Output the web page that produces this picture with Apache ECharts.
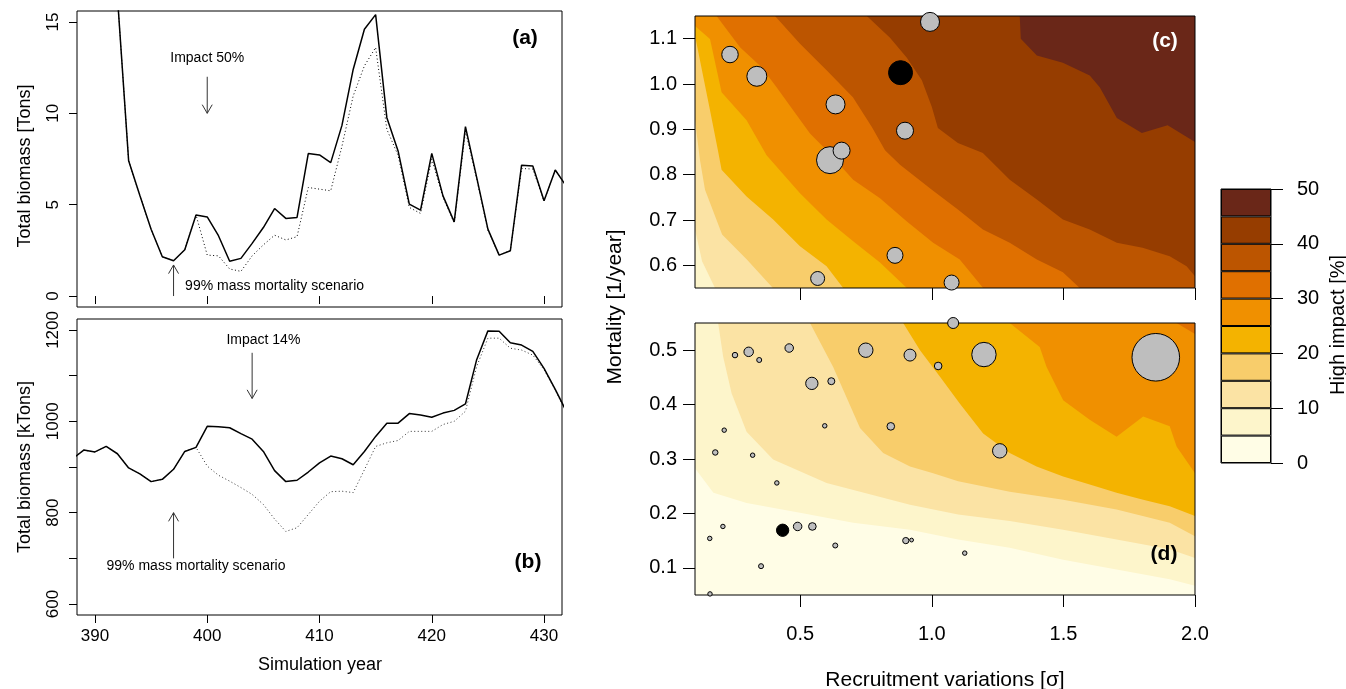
<!DOCTYPE html>
<html>
<head>
<meta charset="utf-8">
<script src="https://cdn.jsdelivr.net/npm/echarts@6/dist/echarts.min.js"></script>
<style>
  html, body { margin: 0; padding: 0; background: #fff; }
  #chart { width: 1346px; height: 689px; }
</style>
</head>
<body>
<div id="chart"></div>
<script>
// ---------- left panels: biomass time series ----------
const years = [388,389,390,391,392,393,394,395,396,397,398,399,400,401,402,403,404,405,406,407,408,409,
  410,411,412,413,414,415,416,417,418,419,420,421,422,423,424,425,426,427,428,429,430,431,432];

// (a) small stock [Tons]
const tonsBase = [40,34,28,22,16.4,7.4,5.5,3.66,2.15,1.93,2.53,4.44, 4.33,3.3,1.9,2.06,2.88,3.75,4.79,4.25,4.3,7.8,
  7.72,7.3,9.34,12.4,14.6,15.4,9.76,7.94,5.03,4.7, 7.81,5.48,4.06,9.27,6.49,3.66,2.24,2.48,7.16,7.12, 5.21,6.9,6.0];
const tonsMortality = [40,34,28,22,16.4,7.4,5.5,3.66,2.15,1.93,2.53,4.44, 2.24,2.2,1.48,1.35,2.2,2.8,3.33,3.07,3.25,5.94,
  5.85,5.76,8.2,10.95,12.6,13.6,9.12,7.7,4.85,4.52, 7.49,5.4,4.0,9.03,6.4,3.6,2.24,2.48,6.98,6.95, 5.2,6.9,6.0];

// (b) large stock [kTons]
const ktonsBase = [918,937,933,945,929,898,885,868,873,895,934,943, 989,988,986,973,961,934,892,868,871,889,
  909,924,918,905,934,967,996,996,1017,1014, 1009,1018,1024,1038,1135,1198,1197,1172,1167,1153, 1116,1070,1021];
const ktonsMortality = [918,937,933,945,929,898,885,868,873,895,934,943, 902,882,869,855,840,818,786,759,767,796,
  825,846,847,844,894,945,953,958,978,978, 978,993,1000,1022,1120,1182,1182,1160,1156,1145, 1113,1068,1019];

const yearTicks = [390, 400, 410, 420, 430];
const tonsTicks = [0, 5, 10, 15];
const ktonsTicks = [600, 700, 800, 900, 1000, 1100, 1200];
const ktonsLabels = [600, 800, 1000, 1200];

// arrows: [x from, y from, x to, y to]
const tonsArrows = [[400, 12, 400, 10], [397, 0, 397, 1.7]];
const tonsNotes = [[400, 13, 'Impact 50%'], [406, 0.55, '99% mass mortality scenario']];
const ktonsArrows = [[404, 1150, 404, 1050], [397, 700, 397, 800]];
const ktonsNotes = [[405, 1177, 'Impact 14%'], [399, 683, '99% mass mortality scenario']];

// ---------- right panels: high impact contours ----------
const impactLevels = [0, 5, 10, 15, 20, 25, 30, 35, 40, 45, 50];
const impactColors = ['#FFFDE6', '#FDF5CB', '#FBE3A4', '#F8CD6B', '#F4B300',
  '#F09000', '#E07000', '#BC5500', '#963D00', '#6A2718'];
const sigmaTicks = [0.5, 1.0, 1.5, 2.0];
const mortHighTicks = [0.6, 0.7, 0.8, 0.9, 1.0, 1.1];
const mortLowTicks = [0.1, 0.2, 0.3, 0.4, 0.5];

// (c) contour lines [sigma, mortality], area above each line gets the next band colour
const cEdge10 = [[0.10,0.679],[0.127,0.609],[0.176,0.55],[2.0,0.55]];
const cEdge15 = [[0.10,0.92],[0.119,0.832],[0.138,0.767],[0.203,0.668],[0.297,0.613],[0.396,0.55],[2.0,0.55]];
const cEdge20 = [[0.10,1.107],[0.119,1.052],[0.157,0.942],[0.187,0.854],[0.201,0.811],[0.296,0.752],[0.397,0.701],
  [0.499,0.642],[0.60,0.598],[0.663,0.55],[2.0,0.55]];
const cEdge25 = [[0.10,1.128],[0.157,1.099],[0.201,0.982],[0.296,0.92],[0.372,0.843],[0.499,0.759],[0.60,0.701],
  [0.701,0.653],[0.803,0.606],[0.905,0.55],[2.0,0.55]];
const cEdge30 = [[0.182,1.15],[0.271,1.081],[0.353,1.037],[0.41,0.993],[0.473,0.942],[0.537,0.891],[0.60,0.854],
  [0.701,0.789],[0.803,0.748],[0.904,0.697],[1.005,0.65],[1.106,0.613],[1.195,0.55],[2.0,0.55]];
const cEdge35 = [[0.404,1.15],[0.499,1.089],[0.601,1.03],[0.70,0.971],[0.772,0.905],[0.822,0.854],[0.879,0.822],
  [1.0,0.767],[1.099,0.723],[1.194,0.679],[1.296,0.65],[1.399,0.613],[1.498,0.585],[1.562,0.55],[2.0,0.55]];
const cEdge40 = [[0.753,1.15],[0.841,1.102],[0.905,1.058],[0.962,1.008],[1.0,0.949],[1.023,0.903],[1.099,0.87],
  [1.194,0.848],[1.296,0.789],[1.399,0.745],[1.498,0.701],[1.60,0.679],[1.703,0.65],[1.801,0.639],[1.904,0.62],
  [1.968,0.598],[2.0,0.576]];
const cEdge45 = [[1.334,1.15],[1.338,1.10],[1.399,1.063],[1.498,1.047],[1.60,1.019],[1.638,0.993],[1.703,0.925],
  [1.798,0.892],[1.896,0.909],[2.0,0.872]];

// (d) contour lines
const dEdge5 = [[0.10,0.283],[0.17,0.238],[0.296,0.219],[0.499,0.201],[0.701,0.183],[0.917,0.17],[1.10,0.152],
  [1.296,0.137],[1.499,0.115],[1.702,0.097],[1.904,0.079],[2.0,0.067]];
const dEdge10 = [[0.188,0.55],[0.207,0.488],[0.239,0.421],[0.296,0.35],[0.397,0.299],[0.60,0.256],[0.917,0.216],
  [1.10,0.198],[1.296,0.186],[1.499,0.17],[1.702,0.152],[1.904,0.134],[2.0,0.118]];
const dEdge15 = [[0.537,0.55],[0.625,0.469],[0.727,0.357],[0.815,0.311],[0.917,0.286],[1.005,0.274],[1.10,0.259],
  [1.296,0.24],[1.499,0.225],[1.702,0.207],[1.904,0.183],[2.0,0.158]];
const dEdge20 = [[0.891,0.55],[0.955,0.50],[1.031,0.451],[1.106,0.402],[1.195,0.347],[1.296,0.311],[1.398,0.286],
  [1.499,0.268],[1.60,0.253],[1.702,0.238],[1.803,0.225],[1.904,0.213],[2.0,0.195]];
const dEdge25 = [[1.296,0.55],[1.41,0.506],[1.436,0.469],[1.499,0.408],[1.60,0.372],[1.702,0.341],[1.803,0.378],
  [1.904,0.36],[1.93,0.323],[2.0,0.274]];
const dEdge30 = [[1.93,0.55],[2.0,0.53]];

// bubbles: [sigma, mortality, weight]
const cBubbles = [[0.233,1.065,60],[0.335,1.017,90],[0.634,0.955,81],[0.613,0.832,169],[0.657,0.853,64],
  [0.898,0.897,64],[0.993,1.137,81],[0.86,0.622,56],[0.566,0.571,42],[1.075,0.562,49]];
const cSelected = [[0.881,1.025,132]];
const dBubbles = [[0.252,0.491,5],[0.304,0.497,18],[0.344,0.482,4],[0.458,0.504,14],[0.749,0.50,45],[0.917,0.491,30],
  [0.544,0.439,32],[0.618,0.443,9],[0.593,0.361,3],[0.844,0.36,11],[0.211,0.353,3],[0.177,0.312,5],[0.319,0.307,3],
  [0.411,0.256,3],[0.206,0.176,3],[0.156,0.154,3],[0.49,0.176,14],[0.546,0.176,11],[0.633,0.141,4],[0.351,0.103,4],
  [0.157,0.052,3],[0.901,0.15,7],[0.923,0.151,2],[1.125,0.127,3],[1.024,0.471,11],[1.198,0.492,137],
  [1.258,0.315,45],[1.851,0.487,543],[1.081,0.55,25]];
const dSelected = [[0.433,0.169,32]];

const FONT = '"Liberation Sans", Arial, Helvetica, sans-serif';
const chart = echarts.init(document.getElementById('chart'));

const zip = vals => years.map((y, i) => [y, vals[i]]);

function arrowSeries(arrows, gi) {
  return {
    type: 'custom', xAxisIndex: gi, yAxisIndex: gi, data: arrows, silent: true, clip: false, z: 6,
    encode: { x: [0, 2], y: [1, 3] },
    renderItem: (params, api) => {
      const p1 = api.coord([api.value(0), api.value(1)]);
      const p2 = api.coord([api.value(2), api.value(3)]);
      const ang = Math.atan2(p2[1] - p1[1], p2[0] - p1[0]);
      const L = 10, sp = Math.PI / 6;
      const h1 = [p2[0] - L * Math.cos(ang - sp), p2[1] - L * Math.sin(ang - sp)];
      const h2 = [p2[0] - L * Math.cos(ang + sp), p2[1] - L * Math.sin(ang + sp)];
      const st = { stroke: '#333', lineWidth: 1, fill: null };
      return { type: 'group', children: [
        { type: 'line', shape: { x1: p1[0], y1: p1[1], x2: p2[0], y2: p2[1] }, style: st },
        { type: 'polyline', shape: { points: [h1, p2, h2] }, style: st }
      ] };
    }
  };
}

function noteSeries(notes, gi) {
  return {
    type: 'custom', xAxisIndex: gi, yAxisIndex: gi, data: notes.map(n => [n[0], n[1]]),
    silent: true, clip: false, z: 6,
    renderItem: (params, api) => {
      const p = api.coord([api.value(0), api.value(1)]);
      return { type: 'text', x: p[0], y: p[1], style: {
        text: notes[params.dataIndex][2], fill: '#000', fontSize: 14, fontFamily: FONT,
        align: 'center', verticalAlign: 'middle' } };
    }
  };
}

function contourSeries(points, level, gi) {
  return {
    type: 'line', xAxisIndex: gi, yAxisIndex: gi, data: points, symbol: 'none', smooth: false,
    silent: true, z: 1, lineStyle: { width: 0 },
    areaStyle: { color: impactColors[impactLevels.indexOf(level)], opacity: 1, origin: 'end' }
  };
}

function bubbleSeries(points, gi, fill) {
  return {
    type: 'scatter', xAxisIndex: gi, yAxisIndex: gi, data: points, z: 12, silent: true,
    symbolSize: v => 2 * Math.sqrt(v[2]) + 1,
    itemStyle: { color: fill, borderColor: '#000', borderWidth: 1, opacity: 1 }
  };
}

const tickStyle = { show: true, lineStyle: { color: '#000', width: 1 } };
const leftLabel = { color: '#000', fontSize: 17, fontFamily: FONT, formatter: v => String(v) };
const rightLabel = { color: '#000', fontSize: 20, fontFamily: FONT };

function yearAxis(gi, showLabels) {
  return {
    type: 'value', gridIndex: gi, min: 388.4, max: 431.6, axisLine: { show: false }, splitLine: { show: false },
    axisTick: { customValues: yearTicks, length: 8, ...tickStyle },
    axisLabel: { show: showLabels, customValues: yearTicks, margin: 13, ...leftLabel }
  };
}
function sigmaAxis(gi, showLabels) {
  return {
    type: 'value', gridIndex: gi, min: 0.1, max: 2.0, axisLine: { show: false }, splitLine: { show: false },
    axisTick: { customValues: sigmaTicks, length: 12, ...tickStyle },
    axisLabel: { show: showLabels, customValues: sigmaTicks, margin: 29, formatter: v => v.toFixed(1), ...rightLabel }
  };
}
function mortAxis(gi, min, max, ticks) {
  return {
    type: 'value', gridIndex: gi, min, max, axisLine: { show: false }, splitLine: { show: false },
    axisTick: { customValues: ticks, length: 12, ...tickStyle },
    axisLabel: { customValues: ticks, margin: 18, formatter: v => v.toFixed(1), ...rightLabel }
  };
}

const frame = { show: true, borderColor: '#000', borderWidth: 1, backgroundColor: 'transparent' };

const txt = (x, y, text, size, extra) => ({
  type: 'text', x, y, silent: true, z: 20,
  style: { text, fill: '#000', fontSize: size, fontFamily: FONT, align: 'center', verticalAlign: 'middle', ...extra }
});
const vtxt = (x, y, text, size) => ({ ...txt(x, y, text, size), rotation: Math.PI / 2 });

const series = [
  // (a)
  { type: 'line', xAxisIndex: 0, yAxisIndex: 0, data: zip(tonsMortality), symbol: 'none',
    lineStyle: { color: '#000', width: 1, type: [1, 2.5] }, z: 3 },
  { type: 'line', xAxisIndex: 0, yAxisIndex: 0, data: zip(tonsBase), symbol: 'none',
    lineStyle: { color: '#000', width: 1.5 }, z: 4 },
  arrowSeries(tonsArrows, 0), noteSeries(tonsNotes, 0),
  // (b)
  { type: 'line', xAxisIndex: 1, yAxisIndex: 1, data: zip(ktonsMortality), symbol: 'none',
    lineStyle: { color: '#333', width: 1, type: [1, 2.5] }, z: 3 },
  { type: 'line', xAxisIndex: 1, yAxisIndex: 1, data: zip(ktonsBase), symbol: 'none',
    lineStyle: { color: '#000', width: 1.5 }, z: 4 },
  arrowSeries(ktonsArrows, 1), noteSeries(ktonsNotes, 1),
  // (c) base band + contours
  contourSeries([[0.1, 0.55], [2.0, 0.55]], 5, 2),
  contourSeries(cEdge10, 10, 2), contourSeries(cEdge15, 15, 2), contourSeries(cEdge20, 20, 2),
  contourSeries(cEdge25, 25, 2), contourSeries(cEdge30, 30, 2), contourSeries(cEdge35, 35, 2),
  contourSeries(cEdge40, 40, 2), contourSeries(cEdge45, 45, 2),
  bubbleSeries(cBubbles, 2, '#BEBEBE'), bubbleSeries(cSelected, 2, '#000'),
  // (d)
  contourSeries([[0.1, 0.05], [2.0, 0.05]], 0, 3),
  contourSeries(dEdge5, 5, 3), contourSeries(dEdge10, 10, 3), contourSeries(dEdge15, 15, 3),
  contourSeries(dEdge20, 20, 3), contourSeries(dEdge25, 25, 3), contourSeries(dEdge30, 30, 3),
  bubbleSeries(dBubbles, 3, '#BEBEBE'), bubbleSeries(dSelected, 3, '#000')
];

// colour key: one stacked block per band
impactColors.forEach((c, i) => {
  series.push({
    type: 'bar', xAxisIndex: 4, yAxisIndex: 4, stack: 'key', barWidth: '100%', silent: true,
    data: [impactLevels[i + 1] - impactLevels[i]],
    itemStyle: { color: c, borderColor: '#000', borderWidth: 1 }
  });
});

chart.setOption({
  animation: false,
  backgroundColor: '#fff',
  grid: [
    { left: 77, top: 11, width: 485, height: 296, ...frame },
    { left: 77, top: 319, width: 485, height: 296, ...frame },
    { left: 695, top: 16, width: 500, height: 272, ...frame, z: 10 },
    { left: 695, top: 323, width: 500, height: 272, ...frame, z: 10 },
    { left: 1221, top: 189, width: 50, height: 274, ...frame }
  ],
  xAxis: [
    yearAxis(0, false), yearAxis(1, true), sigmaAxis(2, false), sigmaAxis(3, true),
    { type: 'category', gridIndex: 4, data: [''], show: false }
  ],
  yAxis: [
    { type: 'value', gridIndex: 0, min: -0.6, max: 15.6, axisLine: { show: false }, splitLine: { show: false },
      axisTick: { customValues: tonsTicks, length: 8, ...tickStyle },
      axisLabel: { customValues: tonsTicks, rotate: 90, margin: 15, ...leftLabel } },
    { type: 'value', gridIndex: 1, min: 576, max: 1224, axisLine: { show: false }, splitLine: { show: false },
      axisTick: { customValues: ktonsTicks, length: 8, ...tickStyle },
      axisLabel: { customValues: ktonsLabels, rotate: 90, margin: 15, ...leftLabel } },
    mortAxis(2, 0.55, 1.15, mortHighTicks),
    mortAxis(3, 0.05, 0.55, mortLowTicks),
    { type: 'value', gridIndex: 4, position: 'right', min: 0, max: 50, interval: 10,
      axisLine: { show: false }, splitLine: { show: false },
      axisTick: { length: 12, ...tickStyle },
      axisLabel: { margin: 26, align: 'left', ...rightLabel } }
  ],
  graphic: [
    vtxt(25, 166, 'Total biomass [Tons]', 18),
    vtxt(25, 467, 'Total biomass [kTons]', 18),
    txt(320, 665, 'Simulation year', 18),
    vtxt(615, 307, 'Mortality [1/year]', 21),
    txt(945, 680, 'Recruitment variations [σ]', 21),
    vtxt(1338, 325, 'High impact [%]', 20),
    txt(525, 38, '(a)', 21, { fontWeight: 'bold' }),
    txt(528, 562, '(b)', 21, { fontWeight: 'bold' }),
    txt(1165, 41, '(c)', 21, { fontWeight: 'bold', fill: '#fff' }),
    txt(1164, 554, '(d)', 21, { fontWeight: 'bold' })
  ],
  series
});
</script>
</body>
</html>
